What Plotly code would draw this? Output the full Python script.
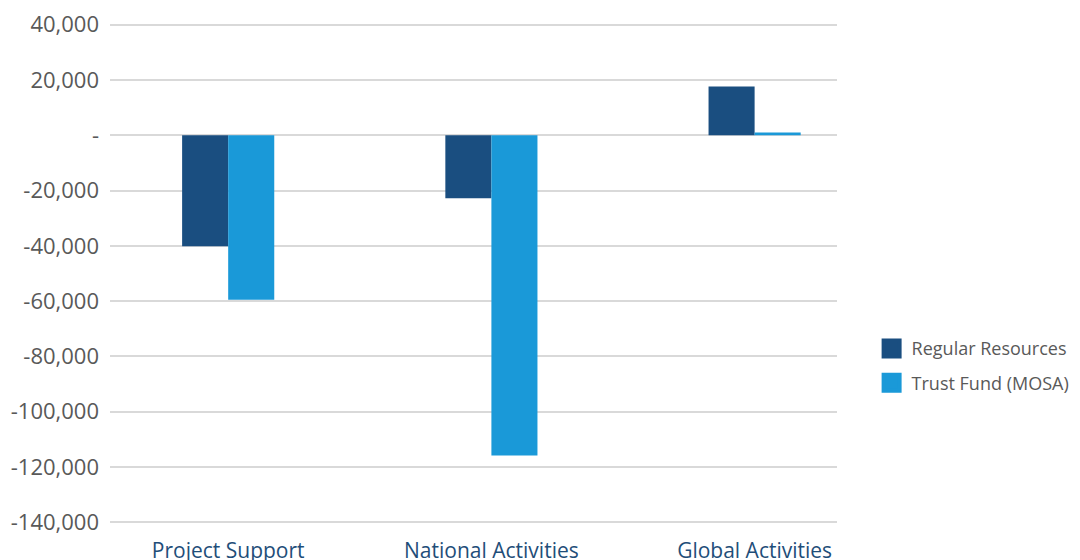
import plotly.graph_objects as go

categories = ["Project Support", "National Activities", "Global Activities"]
regular_resources = [-40100, -22800, 17600]
trust_fund_mosa = [-59500, -115800, 1000]
series_names = ["Regular Resources", "Trust Fund (MOSA)"]
series_colors = ["#1A4E80", "#1A99D8"]
tick_values = [40000, 20000, 0, -20000, -40000, -60000, -80000, -100000, -120000, -140000]
tick_labels = ["40,000", "20,000", "-", "-20,000", "-40,000", "-60,000", "-80,000", "-100,000", "-120,000", "-140,000"]

fig = go.Figure()
for name, vals, col in zip(series_names, [regular_resources, trust_fund_mosa], series_colors):
    fig.add_trace(go.Bar(x=categories, y=vals, name=name, marker=dict(color=col, line=dict(width=0)),
                         showlegend=False))
# legend entries with larger square swatches
for i, (name, col) in enumerate(zip(series_names, series_colors)):
    fig.add_trace(go.Scatter(x=[None], y=[None], mode="markers", name=name, legendgroup=str(i),
                             marker=dict(symbol="square", size=24, color=col,
                                         line=dict(width=4, color=col))))

# the page adds an 8px body margin, so the figure is sized to the remaining viewport
fig.update_layout(
    width=1072, height=552,
    margin=dict(l=102, r=243, t=15, b=36, autoexpand=False),
    paper_bgcolor="white", plot_bgcolor="white",
    barmode="group", bargap=0.65, bargroupgap=0,
    font=dict(family="Open Sans, sans-serif", color="#595959"),
    legend=dict(xref="container", yref="container", x=0.8056, y=0.352, xanchor="left", yanchor="middle",
                font=dict(size=18, color="#595959"), itemsizing="trace", tracegroupgap=8,
                bgcolor="rgba(0,0,0,0)"),
    showlegend=True,
)
fig.update_xaxes(type="category", range=[-0.449, 2.313], showgrid=False, zeroline=False, showline=False,
                 automargin=False, ticks="", ticklabelstandoff=12,
                 tickfont=dict(size=21, color="#1F4E79"))
fig.update_yaxes(range=[-140600, 40600], tickvals=tick_values, ticktext=tick_labels,
                 showgrid=True, gridcolor="#D9D9D9", gridwidth=1.5, zeroline=False, showline=False,
                 automargin=False, ticks="", ticklabelstandoff=10, tickfont=dict(size=22, color="#595959"))

fig.write_html("out.html")
